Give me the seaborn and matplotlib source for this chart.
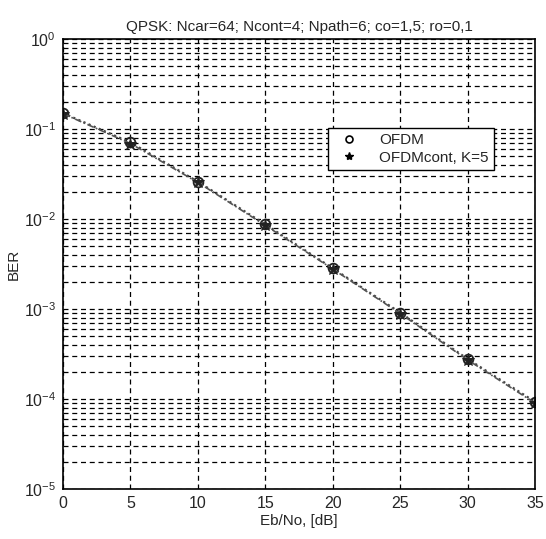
import numpy as np
import pandas as pd
import matplotlib
matplotlib.use("Agg")
import matplotlib.pyplot as plt
from matplotlib.lines import Line2D
from matplotlib.ticker import LogLocator, NullFormatter
import seaborn as sns

# Eb/No, dB
ebno = [0, 5, 10, 15, 20, 25, 30, 35]
# BER curves
ber_ofdm = [0.150, 0.071, 0.026, 0.0087, 0.00283, 0.00091, 0.000278, 0.000093]
ber_cont = [0.148, 0.069, 0.0255, 0.0085, 0.00278, 0.00089, 0.000272, 0.000090]
series_names = ["OFDM", "OFDMcont, K=5"]

df = pd.DataFrame({
    "ebno": ebno * 2,
    "ber": ber_ofdm + ber_cont,
    "series": [series_names[0]] * len(ebno) + [series_names[1]] * len(ebno),
})

sns.set_style("white")
plt.rcParams["font.family"] = ["Liberation Sans", "DejaVu Sans"]

fig = plt.figure(figsize=(5.46, 5.39), dpi=100)
ax = fig.add_axes([0.1154, 0.0928, 0.8646, 0.8348])

sns.lineplot(data=df[df.series == series_names[0]], x="ebno", y="ber", ax=ax,
             color="#444444", lw=1.6, linestyle=(0, (1, 1.5)),
             marker="o", markersize=7, markerfacecolor="none",
             markeredgecolor="#222222", markeredgewidth=1.3, legend=False)
sns.lineplot(data=df[df.series == series_names[1]], x="ebno", y="ber", ax=ax,
             color="#555555", lw=1.2, linestyle=(0, (4, 1.5, 1, 1.5)),
             marker="*", markersize=9, markerfacecolor="#222222",
             markeredgecolor="#222222", legend=False)

ax.set_yscale("log")
ax.set_xlim(0, 35)
ax.set_ylim(1e-5, 1)
ax.set_xticks([0, 5, 10, 15, 20, 25, 30, 35])
ax.yaxis.set_major_locator(LogLocator(base=10, numticks=10))
ax.yaxis.set_minor_locator(LogLocator(base=10, subs=np.arange(2, 10), numticks=20))
ax.yaxis.set_minor_formatter(NullFormatter())

ax.grid(True, which="major", axis="both", color="black", linestyle=(0, (4, 3)), lw=0.9)
ax.grid(True, which="minor", axis="y", color="black", linestyle=(0, (4, 3)), lw=0.9)
ax.tick_params(axis="both", which="major", labelsize=11.5, direction="in", length=4,
               color="black", pad=5)
ax.tick_params(axis="y", which="minor", direction="in", length=2)
for s in ax.spines.values():
    s.set_color("black")
    s.set_linewidth(1.2)

ax.set_xlabel("Eb/No, [dB]", fontsize=11, labelpad=2)
ax.set_ylabel("BER", fontsize=11, labelpad=2)
ax.set_title("QPSK: Ncar=64; Ncont=4; Npath=6; co=1,5; ro=0,1", fontsize=11, pad=6)

handles = [
    Line2D([], [], linestyle="none", marker="o", markersize=5, markerfacecolor="none",
           markeredgecolor="black", markeredgewidth=1.2),
    Line2D([], [], linestyle="none", marker="*", markersize=6, color="black"),
]
leg = ax.legend(handles, series_names, loc="upper right", bbox_to_anchor=(0.913, 0.802),
                fontsize=11, frameon=True, fancybox=False, edgecolor="black",
                framealpha=1, borderpad=0.35, borderaxespad=0, labelspacing=0.2,
                handletextpad=1.0, handlelength=2.0)
leg.get_frame().set_linewidth(1.0)

fig.savefig("out.png", dpi=100)
